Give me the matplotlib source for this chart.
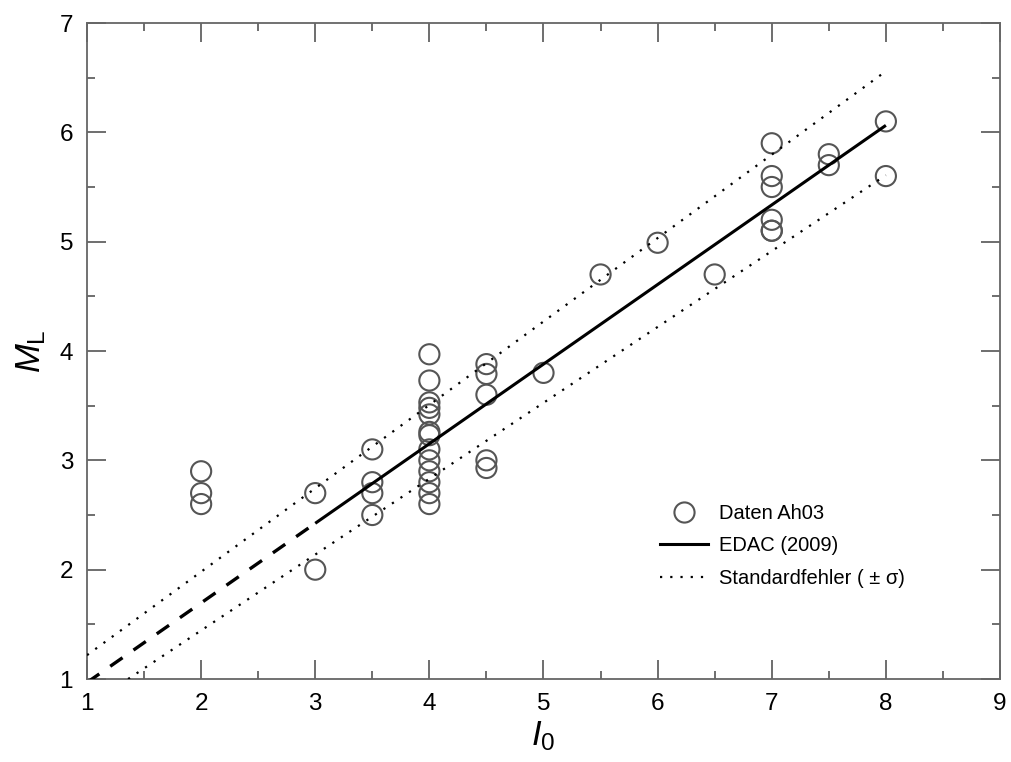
import matplotlib
matplotlib.use("Agg")
import matplotlib.pyplot as plt
import numpy as np
from matplotlib.ticker import MultipleLocator
from matplotlib.lines import Line2D

plt.rcParams['font.family'] = ['Liberation Sans', 'DejaVu Sans']
plt.rcParams['mathtext.fontset'] = 'custom'
plt.rcParams['mathtext.rm'] = 'Liberation Sans'
plt.rcParams['mathtext.it'] = 'Liberation Sans:italic'

# Data (Ah03)
i0 = [2, 2, 2,
      3, 3,
      3.5, 3.5, 3.5, 3.5,
      4, 4, 4, 4, 4, 4, 4, 4, 4, 4, 4, 4, 4,
      4.5, 4.5, 4.5, 4.5, 4.5,
      5, 5.5, 6, 6.5,
      7, 7, 7, 7, 7, 7,
      7.5, 7.5,
      8, 8]
ml = [2.9, 2.7, 2.6,
      2.7, 2.0,
      3.1, 2.8, 2.7, 2.5,
      3.97, 3.73, 3.53, 3.48, 3.42, 3.26, 3.23, 3.1, 3.0, 2.9, 2.8, 2.7, 2.6,
      3.88, 3.79, 3.6, 3.0, 2.93,
      3.8, 4.7, 4.99, 4.7,
      5.9, 5.6, 5.5, 5.2, 5.1, 5.1,
      5.8, 5.7,
      6.1, 5.6]

# EDAC (2009) relation and standard error bounds
edac_slope, edac_icpt = 0.728, 0.24
edac_solid_x = [3, 8]
edac_dash_x = [1, 3]
upper_slope, upper_icpt = 0.763, 0.455
upper_x = [1, 8]
lower_slope, lower_icpt = 0.694, 0.056
lower_x = [1.36, 8]

fig = plt.figure(figsize=(10.11, 7.62), dpi=100)
ax = fig.add_axes([87/1011, 1-679/762, (1000-87)/1011, (679-23)/762])

ax.scatter(i0, ml, s=14.5**2, facecolors='none', edgecolors='#555555', linewidths=1.5, zorder=3)

xs = np.array(edac_solid_x)
ax.plot(xs, edac_slope*xs + edac_icpt, color='black', lw=2.2, solid_capstyle='butt', zorder=4)
xd = np.array(edac_dash_x)
ax.plot(xd, edac_slope*xd + edac_icpt, color='black', lw=2.4, ls=(0, (4.5, 4)),
        dash_capstyle='butt', zorder=4)
xu = np.array(upper_x)
ax.plot(xu, upper_slope*xu + upper_icpt, color='black', lw=1.6, ls=(0, (1, 3.6)), zorder=4)
xl = np.array(lower_x)
ax.plot(xl, lower_slope*xl + lower_icpt, color='black', lw=1.6, ls=(0, (1, 3.6)), zorder=4)

ax.set_xlim(1, 9)
ax.set_ylim(1, 7)
ax.xaxis.set_major_locator(MultipleLocator(1))
ax.xaxis.set_minor_locator(MultipleLocator(0.5))
ax.yaxis.set_major_locator(MultipleLocator(1))
ax.yaxis.set_minor_locator(MultipleLocator(0.5))
ax.tick_params(which='both', direction='in', top=True, right=True, color='#555555', width=1.2)
ax.tick_params(which='major', length=14, labelsize=17.5, pad=10)
ax.tick_params(which='minor', length=6)
for s in ax.spines.values():
    s.set_color('#666666')
    s.set_linewidth(1.3)

ax.set_xlabel(r'$I_0$', fontsize=25, labelpad=3)
ax.set_ylabel(r'$M_\mathrm{L}$', fontsize=25, labelpad=8)

handles = [
    Line2D([], [], ls='none', marker='o', markersize=14.5, markerfacecolor='none',
           markeredgecolor='#555555', markeredgewidth=1.5),
    Line2D([], [], color='black', lw=2.2),
    Line2D([], [], color='black', lw=1.6, ls=(0, (1, 3.6))),
]
labels = ['Daten Ah03', 'EDAC (2009)', 'Standardfehler ( ± σ)']
ax.legend(handles, labels, loc='upper left', bbox_to_anchor=(650/1011, 1-494/762),
          bbox_transform=fig.transFigure, frameon=False, fontsize=14.5,
          handlelength=2.4, handletextpad=0.55, labelspacing=0.66, borderpad=0)

fig.savefig('out.png', dpi=100)
